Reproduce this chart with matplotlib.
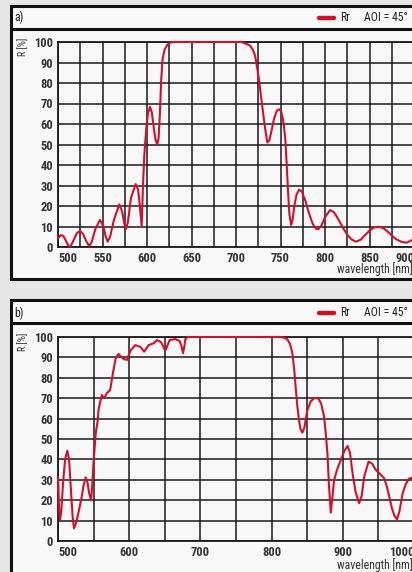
import matplotlib
matplotlib.use("Agg")
import matplotlib.pyplot as plt
from matplotlib.patches import Rectangle
from matplotlib.lines import Line2D
import matplotlib.ticker as ticker

# reflectance curve, panel a)
wl_a = [500, 503, 506, 509, 511.6, 514, 517, 521, 524.7, 528, 532, 535.2, 538,
        542, 547.2, 551, 553.5, 555.8, 558.5, 563, 568.9, 572, 574.5, 576.4,
        578.5, 582, 587.3, 590, 592, 594, 595.5, 597, 599, 601, 603.4, 605.5,
        607.5, 609.5, 611.5, 613, 614.5, 616, 617.6, 620, 623, 626, 630, 640,
        680, 706, 711, 715.7, 719, 721.3, 723, 725, 727, 728.8, 731, 733.5,
        735.2, 737.5, 740, 743, 746, 748.7, 751, 753.5, 755.5, 757, 758.5,
        760, 762, 763.5, 765.5, 768, 771, 774, 778, 782, 786, 789.5, 792.5,
        796, 800, 805.6, 810, 815, 820, 825, 830, 834.8, 840, 845, 850, 855,
        860, 865, 870, 875, 880, 886, 891.8, 897.8, 900]
r_a = [4.2, 5.8, 5.4, 3.0, 0.6, 0.3, 2.8, 6.6, 7.9, 6.4, 2.6, 0.4, 2.6,
       8.8, 13.2, 10.2, 5.2, 2.6, 5.0, 13.5, 20.8, 17.5, 11.5, 8.8,
       12.0, 24.0, 30.7, 28.0, 20.0, 10.0, 30.0, 45.0, 57.0, 65.0, 68.4, 65.5,
       58.5, 52.5, 50.0, 53.0, 65.0, 82.0, 92.0, 96.5, 98.7, 99.7, 100, 100,
       100, 100, 99.2, 98.3, 96.2, 93.5, 89.5, 84.0, 77.5, 71.0, 63.5, 55.5,
       51.0, 52.0, 57.0, 63.0, 66.5, 67.2, 65.8, 60.5, 52.0, 40.0, 27.0,
       16.0, 10.7, 13.0, 20.0, 25.5, 28.0, 27.0, 22.5, 16.5, 11.5, 9.0, 8.6,
       10.5, 14.5, 18.0, 17.0, 13.5, 9.5, 6.0, 3.6, 2.6, 3.5, 5.8, 8.0, 9.5,
       9.9, 9.3, 7.7, 5.6, 3.8, 2.5, 2.1, 3.4, 4.0]
xticks_a = [500, 550, 600, 650, 700, 750, 800, 850, 900]
xgrid_a = [525, 575, 625, 675, 725, 775, 825, 875]

# reflectance curve, panel b)
wl_b = [500, 500.5, 501.5, 502.8, 504.5, 507, 510, 513.1, 515.5, 518, 520.5,
        522.5, 525, 528.6, 533.3, 536, 539, 541.5, 544, 546.5, 548, 549.8,
        553, 555.9, 556.8, 561.5, 564.8, 568.5, 573.2, 577.9, 581, 585, 588,
        591, 596.7, 602.3, 608.5, 615.5, 621, 627.2, 634.3, 639, 644.6, 650.7,
        656.8, 664.8, 670.9, 673.5, 675.6, 677.5, 678.9, 682, 700, 780,
        812.7, 818, 822, 826, 829.2, 831.5, 833.8, 836, 838.5, 840.5, 843.2,
        846, 850.2, 855, 860, 865.2, 869.5, 873.7, 876, 878.4, 880.5, 883.1,
        885, 887.8, 892, 897.2, 902, 906.6, 910, 913.7, 918, 923, 926.5, 930,
        936.2, 941, 946.5, 952, 958.2, 962, 965.3, 969, 972.5, 976.1, 979.5,
        984.1, 988.5, 993.4, 998.6, 1000]
r_b = [31.0, 27.0, 16.0, 10.3, 14.0, 28.0, 40.0, 44.3, 40.0, 26.0, 12.0,
       6.2, 8.5, 13.6, 21.7, 27.5, 31.2, 28.5, 23.0, 20.0, 27.0, 38.0,
       52.8, 59.3, 64.2, 71.6, 70.0, 72.4, 74.0, 83.8, 89.5, 91.7, 90.5,
       89.5, 88.7, 93.6, 96.0, 95.2, 92.8, 96.0, 96.9, 98.5, 97.5, 93.3,
       98.5, 99.0, 98.0, 95.5, 92.0, 95.5, 99.0, 100, 100, 100,
       100, 99.6, 98.9, 96.5, 92.0, 85.0, 75.6, 66.5, 59.3, 55.0, 53.1,
       55.5, 64.2, 68.5, 70.0, 70.0, 67.5, 61.0, 53.0, 43.0, 28.0, 13.9,
       20.0, 29.9, 35.0, 39.7, 44.0, 46.6, 43.5, 33.2, 24.0, 18.5, 22.0, 31.5,
       38.9, 38.0, 34.8, 33.0, 30.7, 26.5, 21.7, 16.0, 12.5, 10.6, 14.5,
       23.4, 28.0, 30.7, 31.0, 31.0]
xticks_b = [500, 600, 700, 800, 900, 1000]
xgrid_b = [550, 650, 750, 850, 950]

FONT = ["Roboto Condensed", "PT Sans Narrow", "Archivo Narrow",
        "Liberation Sans Narrow", "DejaVu Sans"]
plt.rcParams["font.family"] = FONT

RED = "#d1102a"
INK = "#111111"
W, H = 412, 572
fig = plt.figure(figsize=(W / 100, H / 100), dpi=100)
fig.patch.set_facecolor("#e6e6e6")


def fx(px):
    return px / W


def fy(py):
    return 1 - py / H


def frame(top, sep, bottom):
    # panel box with header bar, kept behind the axes
    fig.add_artist(Rectangle((fx(10.5), fy(bottom)), fx(440), fy(top) - fy(bottom),
                             transform=fig.transFigure, facecolor="#f8f8f8",
                             edgecolor=INK, linewidth=2.2, zorder=-10))
    fig.add_artist(Line2D([fx(10.5), fx(450)], [fy(sep), fy(sep)],
                          transform=fig.transFigure, color=INK, linewidth=2.2,
                          zorder=-9))


def header(tag, yc):
    fig.text(fx(14), fy(yc), tag, ha="left", va="center", fontsize=8.5,
             color="#222222")
    fig.add_artist(Line2D([fx(319), fx(334)], [fy(yc), fy(yc)],
                          transform=fig.transFigure, color=RED, linewidth=3.2,
                          solid_capstyle="round"))
    fig.text(fx(340), fy(yc), "Rr", ha="left", va="center", fontsize=8.5,
             color="#222222")
    fig.text(fx(364), fy(yc), "AOI = 45°", ha="left", va="center", fontsize=8.5,
             color="#222222")


def panel(top_px, bot_px, xticks, xgrid, wl, r):
    ax = fig.add_axes([fx(58), fy(bot_px), fx(414 - 58), fy(top_px) - fy(bot_px)])
    ax.set_facecolor("#f8f8f8")
    ax.set_xlim(xticks[0], xticks[-1])
    ax.set_ylim(0, 100)
    ax.set_xticks(xticks)
    ax.set_xticks(xgrid, minor=True)
    ax.set_xticklabels([str(t) for t in xticks], fontweight="bold")
    ax.yaxis.set_major_locator(ticker.MultipleLocator(10))
    ax.grid(True, which="both", color="#1a1a1a", linewidth=1.1)
    ax.set_axisbelow(True)
    for s in ax.spines.values():
        s.set_color("#1a1a1a")
        s.set_linewidth(1.3)
    ax.tick_params(which="both", length=0, labelsize=9, labelcolor="#333333",
                   pad=3.5)
    ax.plot(wl, r, color=RED, linewidth=1.5, solid_joinstyle="round",
            clip_on=False, zorder=4)
    for lab in ax.get_yticklabels():
        lab.set_fontweight("bold")
    # end labels sit inside the axis span
    labs = ax.get_xticklabels()
    labs[0].set_horizontalalignment("left")
    labs[-1].set_horizontalalignment("right")
    return ax


frame(5.5, 29, 278.5)
header("a)", 17.5)
frame(300.5, 323, 576)
header("b)", 313)

ax_a = panel(42, 247, xticks_a, xgrid_a, wl_a, r_a)
ax_b = panel(337, 541, xticks_b, xgrid_b, wl_b, r_b)

fig.text(fx(413), fy(269), "wavelength [nm]", ha="right", va="center",
         fontsize=8.5, color="#333333")
fig.text(fx(413), fy(565), "wavelength [nm]", ha="right", va="center",
         fontsize=8.5, color="#333333")
fig.text(fx(23), fy(38), "R [%]", rotation=90, ha="center", va="top",
         fontsize=7, color="#333333")
fig.text(fx(23), fy(333), "R [%]", rotation=90, ha="center", va="top",
         fontsize=7, color="#333333")

fig.savefig("out.png", dpi=100, facecolor=fig.get_facecolor())
